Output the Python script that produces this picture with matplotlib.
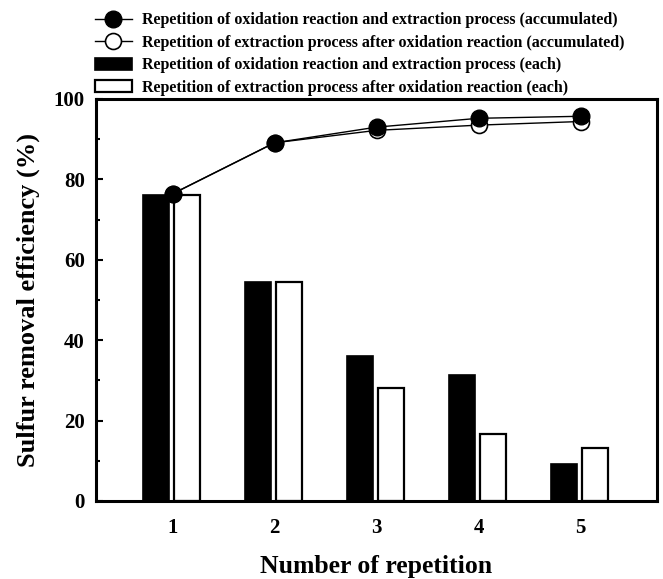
import matplotlib
matplotlib.use("Agg")
import matplotlib.pyplot as plt
import numpy as np
from matplotlib.ticker import MultipleLocator

repetition = [1, 2, 3, 4, 5]
each_oxid_extr = [76.2, 54.4, 36.0, 31.3, 9.2]
each_extr_after = [76.2, 54.4, 28.0, 16.7, 13.2]
acc_oxid_extr = [76.4, 89.1, 93.0, 95.2, 95.7]
acc_extr_after = [76.4, 89.1, 92.2, 93.5, 94.4]

labels = [
    "Repetition of oxidation reaction and extraction process (accumulated)",
    "Repetition of extraction process after oxidation reaction (accumulated)",
    "Repetition of oxidation reaction and extraction process (each)",
    "Repetition of extraction process after oxidation reaction (each)",
]

plt.rcParams['font.family'] = ['Liberation Serif', 'DejaVu Serif']
plt.rcParams['font.weight'] = 'bold'

fig = plt.figure(figsize=(6.63, 5.79), dpi=100)
ax = fig.add_axes([96/663, 1-501/579, (657-96)/663, (501-99)/579])

x = np.array(repetition)
w = 0.25
b1 = ax.bar(x - 0.16, each_oxid_extr, w, color='black', edgecolor='black', linewidth=1.2, label=labels[2], zorder=2)
b2 = ax.bar(x + 0.14, each_extr_after, w, color='white', edgecolor='black', linewidth=1.6, label=labels[3], zorder=2)
l2, = ax.plot(x, acc_extr_after, '-o', color='black', mfc='white', mec='black', ms=11.5, lw=1.0, mew=1.2, label=labels[1], zorder=3)
l1, = ax.plot(x, acc_oxid_extr, '-o', color='black', mfc='black', mec='black', ms=12, lw=1.0, label=labels[0], zorder=4)

ax.set_xlim(0.25, 5.75)
ax.set_ylim(0, 100)
ax.set_xticks(repetition)
ax.yaxis.set_major_locator(MultipleLocator(20))
ax.yaxis.set_minor_locator(MultipleLocator(10))
ax.tick_params(axis='y', which='both', direction='in', width=1.5, labelsize=15, pad=8)
ax.tick_params(axis='y', which='major', length=5)
ax.tick_params(axis='y', which='minor', length=3)
ax.tick_params(axis='x', length=0, labelsize=15, pad=12.5)
for lab in ax.get_xticklabels() + ax.get_yticklabels():
    lab.set_fontweight('bold')
for s in ax.spines.values():
    s.set_linewidth(2.2)

fig.text((96 + 657) / 2 / 663, 1 - 566/579, "Number of repetition", fontsize=18.5,
         fontweight='bold', ha='center', va='center')
ax.set_ylabel("Sulfur removal efficiency (%)", fontsize=19, fontweight='bold', labelpad=10)

leg = fig.legend([l1, l2, b1, b2], labels, loc='upper left', bbox_to_anchor=(88.5/663, 1-6/579),
                 frameon=False, prop={'weight': 'bold', 'size': 11.5},
                 handlelength=2.3, handleheight=0.8, handletextpad=0.63, labelspacing=0.4,
                 borderaxespad=0)

fig.savefig("out.png", dpi=100)
